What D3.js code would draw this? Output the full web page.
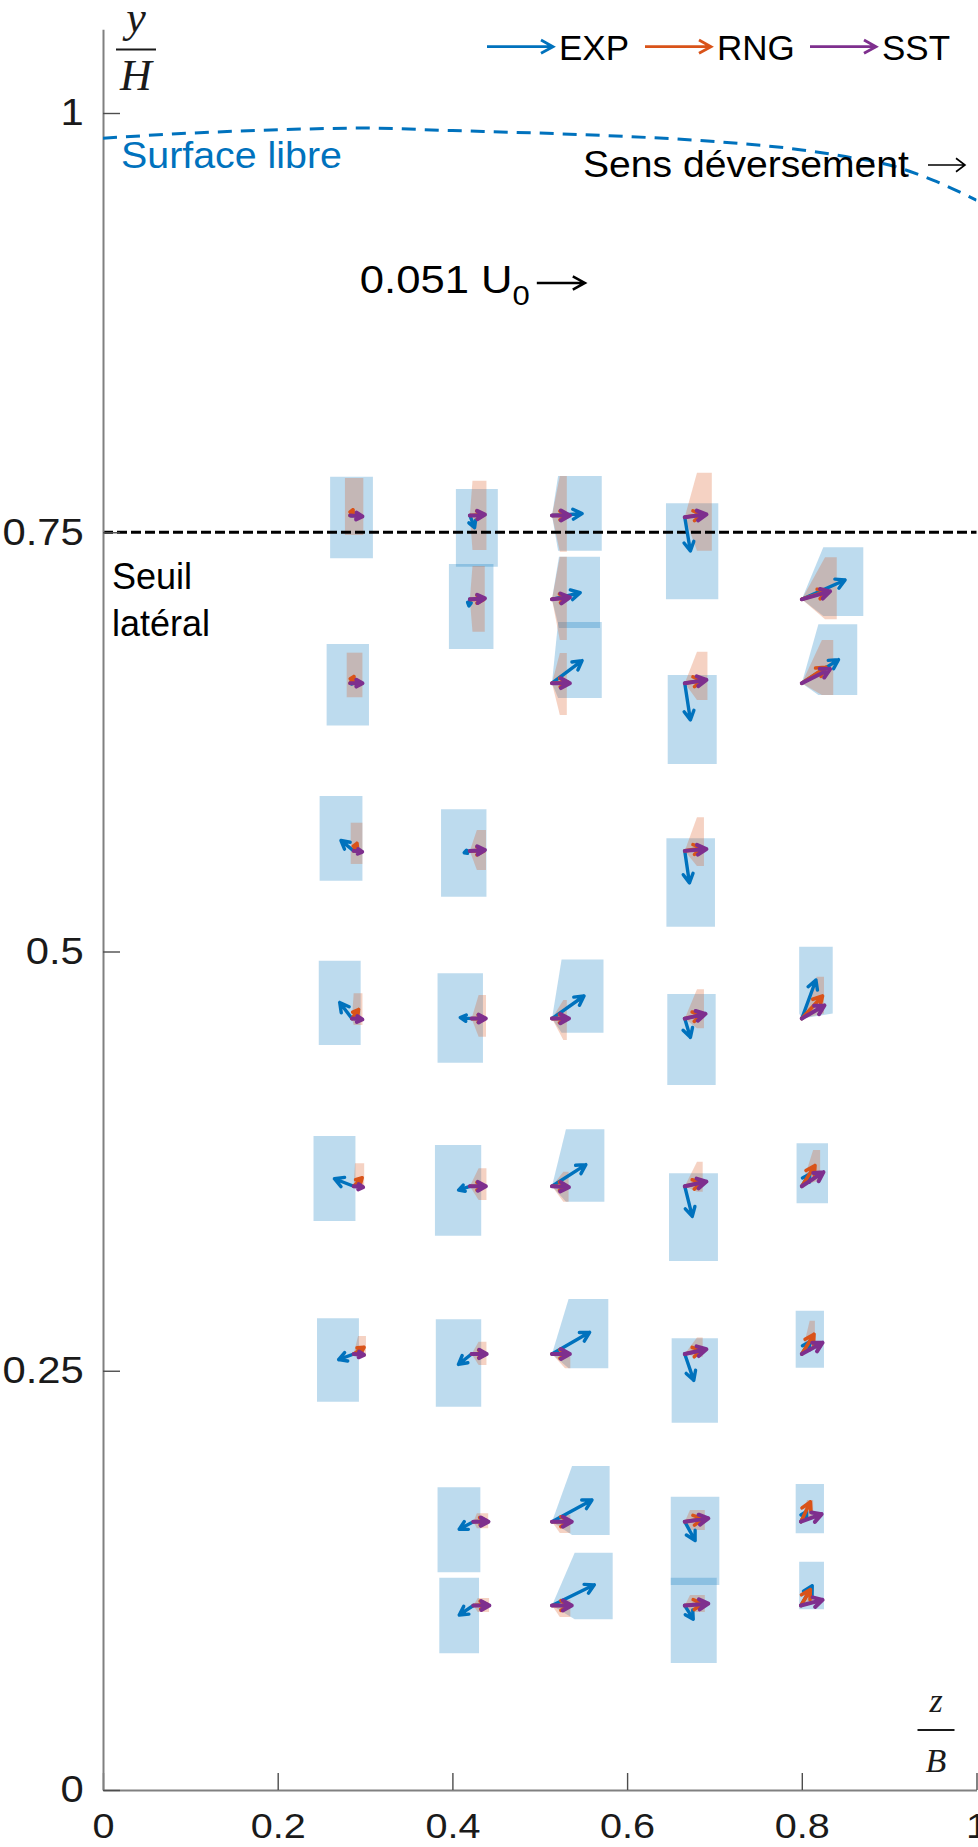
<!DOCTYPE html>
<html><head><meta charset="utf-8">
<script src="https://cdn.jsdelivr.net/npm/d3@7"></script>
<style>body{margin:0;background:#fff}svg{display:block}</style>
</head><body>
<svg id="c" width="978" height="1847"></svg>
<script>
// ---------- data ----------
const xTicks = [0, 0.2, 0.4, 0.6, 0.8, 1];
const xTickLabels = ["0", "0.2", "0.4", "0.6", "0.8", "1"];
const yTicks = [0, 0.25, 0.5, 0.75, 1];
const yTickLabels = ["0", "0.25", "0.5", "0.75", "1"];
const seriesNames = ["EXP", "RNG", "SST"];
const seuilLevel = 0.75;
const refVelocity = 0.051; // U0

// measurement points (z/B, y/H)
const ptZ = [0.283,0.283,0.287,0.285,0.287,0.287, 0.420,0.420,0.420,0.422,0.420,0.422,0.424,0.424,
  0.514,0.514,0.514,0.514,0.514,0.514,0.514,0.514, 0.666,0.666,0.666,0.666,0.666,0.666,0.666,0.666,
  0.800,0.800,0.800,0.800,0.800,0.799,0.799];
const ptY = [0.760,0.660,0.560,0.460,0.360,0.260, 0.760,0.710,0.560,0.460,0.360,0.260,0.160,0.110,
  0.760,0.710,0.660,0.460,0.360,0.260,0.160,0.110, 0.759,0.660,0.560,0.460,0.360,0.260,0.160,0.110,
  0.710,0.660,0.460,0.360,0.260,0.160,0.110];

// velocity components (U0), horizontal u and vertical v
const expU = [0.003,0.003,-0.0135,-0.013,-0.0205,-0.016, 0.005,-0.001,-0.006,-0.012,-0.012,-0.014,-0.015,-0.015,
  0.032,0.030,0.032,0.034,0.036,0.040,0.0425,0.045, 0.006,0.006,0.005,0.006,0.008,0.0096,0.011,0.009,
  0.046,0.039,0.015,0.0085,0.0085,0.006,0.012];
const expV = [0.001,0,0.011,0.017,0.008,-0.006, -0.013,-0.007,-0.002,0.001,-0.004,-0.011,-0.008,-0.010,
  0.002,0.007,0.024,0.024,0.023,0.023,0.023,0.022, -0.036,-0.039,-0.034,-0.020,-0.032,-0.028,-0.020,-0.0145,
  0.0205,0.025,0.041,0.013,0.013,0.011,0.021];
const rngU = [0.003,0.004,0.0035,0.007,0.009,0.011, 0.015,0.015,0.015,0.014,0.015,0.015,0.014,0.015,
  0.017,0.017,0.017,0.016,0.016,0.017,0.019,0.019, 0.019,0.019,0.019,0.018,0.018,0.018,0.019,0.019,
  0.027,0.0255,0.022,0.014,0.013,0.010,0.010];
const rngV = [0.006,0.007,0.008,0.0096,0.009,0.007, 0.001,0,0,0,0,0,0.001,0.001,
  0,0.002,0.001,0,0,0,0,0, 0.003,0.003,0.003,0.004,0.004,0.004,0.003,0.002,
  0.0085,0.017,0.024,0.022,0.021,0.021,0.017];
const sstU = [0.013,0.013,0.009,0.011,0.010,0.011, 0.016,0.016,0.016,0.015,0.017,0.016,0.016,0.017,
  0.019,0.019,0.019,0.018,0.018,0.019,0.021,0.021, 0.023,0.023,0.023,0.022,0.023,0.023,0.025,0.025,
  0.030,0.030,0.024,0.023,0.022,0.022,0.023];
const sstV = [-0.001,0,-0.001,-0.001,-0.001,-0.001, 0.001,0.001,0.001,0,0,0,0,0,
  0,0.002,0,0,-0.001,0,0,0, 0.003,0.0035,0.002,0.005,0.005,0.005,0.0035,0.002,
  0.0085,0.015,0.014,0.015,0.012,0.008,0.006];

// EXP uncertainty boxes (z0,z1,y0,y1)
const expBoxZ0 = [0.260,0.256,0.248,0.247,0.241,0.245, 0.404,0.396,0.387,0.383,0.380,0.381,0.383,0.385,
  0.521,0.522,0.521,0.525,0.530,0.533,0.537,0.540, 0.6445,0.6465,0.645,0.646,0.648,0.651,0.650,0.650,
  0.8246,0.819,0.797,0.794,0.793,0.793,0.797];
const expBoxZ1 = [0.309,0.3045,0.297,0.295,0.289,0.293, 0.452,0.447,0.439,0.435,0.433,0.433,0.432,0.4305,
  0.571,0.569,0.571,0.573,0.574,0.5785,0.580,0.5835, 0.7044,0.7026,0.7006,0.7014,0.704,0.704,0.7056,0.7026,
  0.8704,0.8635,0.8354,0.830,0.8254,0.8254,0.8254];
const expBoxY0 = [0.7345,0.6347,0.5422,0.4442,0.3393,0.2315, 0.7295,0.6804,0.5327,0.4337,0.3305,0.2286,0.1298,0.0815,
  0.7390,0.6929,0.6512,0.4516,0.3508,0.2515,0.1521,0.1018, 0.7100,0.6118,0.5148,0.4204,0.3154,0.2190,0.1222,0.0757,
  0.7001,0.6530,0.4631,0.3499,0.2518,0.1531,0.1078];
const expBoxY1 = [0.7831,0.6834,0.5927,0.4945,0.3900,0.2813, 0.7758,0.7311,0.5848,0.4870,0.3846,0.2807,0.1805,0.1266,
  0.7835,0.7354,0.6965,0.4953,0.3940,0.2928,0.1932,0.1415, 0.7673,0.6649,0.5675,0.4747,0.3677,0.2694,0.1749,0.1266,
  0.7410,0.6951,0.5029,0.3856,0.2858,0.1825,0.1361];

// RNG spread boxes (z0,z1,y0,y1)
const rngBoxZ0 = [0.277,0.279,0.2836,0.287,0.2885,0.292, 0.423,0.423,0.428,0.430,0.430,0.430,0.428,0.429,
  0.523,0.523,0.523,0.527,0.527,0.529,0.523,0.523, 0.680,0.680,0.680,0.680,0.680,0.680,0.672,0.672,
  0.8266,0.823,0.817,0.813,0.809,0.806,0.8056];
const rngBoxZ1 = [0.298,0.297,0.297,0.297,0.299,0.301, 0.439,0.437,0.4385,0.4385,0.439,0.439,0.441,0.442,
  0.531,0.531,0.531,0.531,0.533,0.535,0.535,0.535, 0.697,0.692,0.688,0.688,0.6865,0.6865,0.689,0.689,
  0.840,0.836,0.8254,0.821,0.815,0.813,0.813];
const rngBoxY0 = [0.7484,0.6516,0.5522,0.4562,0.3598,0.2584, 0.7394,0.6907,0.5486,0.4492,0.3518,0.2534,0.1561,0.1061,
  0.7384,0.6858,0.6410,0.4472,0.3508,0.2515,0.1532,0.1032, 0.7390,0.6500,0.5510,0.4542,0.3568,0.2584,0.1550,0.1061,
  0.6981,0.6530,0.4631,0.3637,0.2643,0.1640,0.1113];
const rngBoxY1 = [0.7823,0.6782,0.5768,0.4751,0.3737,0.2707, 0.7807,0.7299,0.5725,0.4741,0.3707,0.2673,0.1650,0.1145,
  0.7835,0.7354,0.6780,0.4711,0.3687,0.2584,0.1640,0.1133, 0.7855,0.6788,0.5800,0.4775,0.3747,0.2699,0.1670,0.1163,
  0.7351,0.6858,0.4850,0.3816,0.2798,0.1729,0.1193];

// free surface profile
const fsZ = [0, 0.1, 0.2, 0.3, 0.4, 0.5, 0.6, 0.7, 0.8, 0.85, 0.9, 0.95, 1.0];
const fsY = [0.985, 0.988, 0.990, 0.991, 0.9895, 0.988, 0.986, 0.983, 0.978, 0.974, 0.969, 0.960, 0.948];

// ---------- drawing ----------
const colors = {EXP: "#0072BD", RNG: "#D95319", SST: "#7E2F8E"};
const svg = d3.select("#c");
const x = d3.scaleLinear().domain([0, 1]).range([103, 976.5]);
const y = d3.scaleLinear().domain([0, 1.05]).range([1790, 1790 - 1.05 * 1677]);
const vs = d3.scaleLinear().domain([0, refVelocity]).range([0, 48]);
const SANS = "'Liberation Sans', Arial, Helvetica, sans-serif";
const SERIF = "'Liberation Serif', 'Times New Roman', serif";

svg.append("defs").append("clipPath").attr("id", "plot")
  .append("rect").attr("x", x(0)).attr("y", y(1.05)).attr("width", x(1) - x(0)).attr("height", y(0) - y(1.05));

function arrowPath(x0, y0, x1, y1, h, wr) {
  const dx = x1 - x0, dy = y1 - y0, L = Math.hypot(dx, dy);
  if (L < 0.3) return "";
  const ux = dx / L, uy = dy / L;
  const hl = Math.min(h, L * 0.5), hw = hl * (wr || 0.55);
  const bx = x1 - ux * hl, by = y1 - uy * hl;
  return `M${x0},${y0}L${x1},${y1}M${bx - uy * hw},${by + ux * hw}L${x1},${y1}L${bx + uy * hw},${by - ux * hw}`;
}

const idx = d3.range(ptZ.length);

// shaded regions: convex hull of box and measurement point
function hull(z0, z1, y0, y1, i) {
  const pts = [[x(z0), y(y0)], [x(z1), y(y0)], [x(z1), y(y1)], [x(z0), y(y1)], [x(ptZ[i]), y(ptY[i])]];
  return "M" + d3.polygonHull(pts).join("L") + "Z";
}
svg.append("g").selectAll("path").data(idx).join("path")
  .attr("d", i => hull(expBoxZ0[i], expBoxZ1[i], expBoxY0[i], expBoxY1[i], i))
  .attr("fill", colors.EXP).attr("fill-opacity", 0.26);
svg.append("g").selectAll("path").data(idx).join("path")
  .attr("d", i => hull(rngBoxZ0[i], rngBoxZ1[i], rngBoxY0[i], rngBoxY1[i], i))
  .attr("fill", colors.RNG).attr("fill-opacity", 0.26);

// seuil line
svg.append("line").attr("x1", x(0)).attr("x2", x(1)).attr("y1", y(seuilLevel)).attr("y2", y(seuilLevel))
  .attr("stroke", "#000").attr("stroke-width", 3).attr("stroke-dasharray", "10,4");

// vectors
const vecSets = [["EXP", expU, expV, 3.4], ["RNG", rngU, rngV, 3.6], ["SST", sstU, sstV, 4]];
vecSets.forEach(([name, U, V, w]) => {
  svg.append("g").selectAll("path").data(idx).join("path")
    .attr("d", i => arrowPath(x(ptZ[i]), y(ptY[i]), x(ptZ[i]) + vs(U[i]), y(ptY[i]) - vs(V[i]), 9))
    .attr("fill", "none").attr("stroke", colors[name]).attr("stroke-width", w)
    .attr("stroke-linecap", "round").attr("stroke-linejoin", "round");
});

// axes
const gx = svg.append("g").attr("transform", `translate(0,${y(0)})`)
  .call(d3.axisBottom(x).tickValues(xTicks).tickFormat((d, i) => xTickLabels[i])
    .tickSizeInner(-17).tickSizeOuter(0).tickPadding(22));
const gy = svg.append("g").attr("transform", `translate(${x(0)},0)`)
  .call(d3.axisLeft(y).tickValues(yTicks).tickFormat((d, i) => yTickLabels[i])
    .tickSizeInner(-17).tickSizeOuter(0).tickPadding(17));
gx.attr("font-size", 36);
gy.attr("font-size", 37);
[gx, gy].forEach(g => {
  g.attr("font-family", SANS);
  g.select(".domain").attr("stroke", "#808080").attr("stroke-width", 2);
  g.selectAll(".tick line").attr("stroke", "#4d4d4d").attr("stroke-width", 1.4);
  g.selectAll(".tick text").attr("fill", "#1a1a1a");
});
gx.selectAll(".tick text").attr("transform", "scale(1.1,1)");
gy.selectAll(".tick text").attr("transform", "scale(1.13,1)");

// free surface
svg.append("path").datum(d3.zip(fsZ, fsY)).attr("clip-path", "url(#plot)")
  .attr("d", d3.line().x(d => x(d[0])).y(d => y(d[1])).curve(d3.curveMonotoneX))
  .attr("fill", "none").attr("stroke", colors.EXP).attr("stroke-width", 3).attr("stroke-dasharray", "14,9");

svg.append("text").attr("x", x(0.0206)).attr("y", y(0.9672)).text("Surface libre")
  .attr("font-family", SANS).attr("font-size", 37).attr("fill", colors.EXP)
  .attr("textLength", 221).attr("lengthAdjust", "spacingAndGlyphs");

svg.append("text").attr("x", x(0.5495)).attr("y", y(0.962)).text("Sens déversement")
  .attr("font-family", SANS).attr("font-size", 37).attr("fill", "#000")
  .attr("textLength", 326).attr("lengthAdjust", "spacingAndGlyphs");
svg.append("path").attr("d", arrowPath(928, 165, 965, 165, 9, 0.75))
  .attr("fill", "none").attr("stroke", "#000").attr("stroke-width", 1.6);

svg.append("text").attr("x", x(0.0103)).attr("y", y(0.7162)).text("Seuil")
  .attr("font-family", SANS).attr("font-size", 36).attr("fill", "#000");
svg.append("text").attr("x", x(0.0103)).attr("y", y(0.6881)).text("latéral")
  .attr("font-family", SANS).attr("font-size", 36).attr("fill", "#000");

// reference vector
const refT = svg.append("text").attr("x", x(0.294)).attr("y", y(0.8927))
  .attr("font-family", SANS).attr("font-size", 38).attr("fill", "#000")
  .attr("textLength", 170).attr("lengthAdjust", "spacingAndGlyphs");
refT.append("tspan").text(refVelocity + " U");
refT.append("tspan").attr("dy", 12).attr("font-size", 27).text("0");
const refStart = x(0.294) + 177;
svg.append("path").attr("d", arrowPath(refStart, y(0.8927) - 10, refStart + vs(refVelocity), y(0.8927) - 10, 12))
  .attr("fill", "none").attr("stroke", "#000").attr("stroke-width", 2.6);

// legend
const legX = [487, 645, 810];
seriesNames.forEach((n, i) => {
  svg.append("path").attr("d", arrowPath(legX[i], 46.7, legX[i] + 66, 46.7, 12))
    .attr("fill", "none").attr("stroke", colors[n]).attr("stroke-width", 2.8);
  svg.append("text").attr("x", legX[i] + 72).attr("y", 60).text(n)
    .attr("font-family", SANS).attr("font-size", 35).attr("fill", "#000");
});

// axis labels as fractions
function frac(cx, num, den, yNum, yBar, yDen, size, half) {
  svg.append("text").attr("x", cx).attr("y", yNum).attr("text-anchor", "middle").text(num)
    .attr("font-family", SERIF).attr("font-style", "italic").attr("font-size", size).attr("fill", "#1a1a1a");
  svg.append("line").attr("x1", cx - half).attr("x2", cx + half).attr("y1", yBar).attr("y2", yBar)
    .attr("stroke", "#1a1a1a").attr("stroke-width", 2);
  svg.append("text").attr("x", cx).attr("y", yDen).attr("text-anchor", "middle").text(den)
    .attr("font-family", SERIF).attr("font-style", "italic").attr("font-size", size).attr("fill", "#1a1a1a");
}
frac(136, "y", "H", 32, 49.5, 90, 44, 20);
frac(936, "z", "B", 1712, 1730, 1772, 34, 18.5);
</script>
</body></html>
